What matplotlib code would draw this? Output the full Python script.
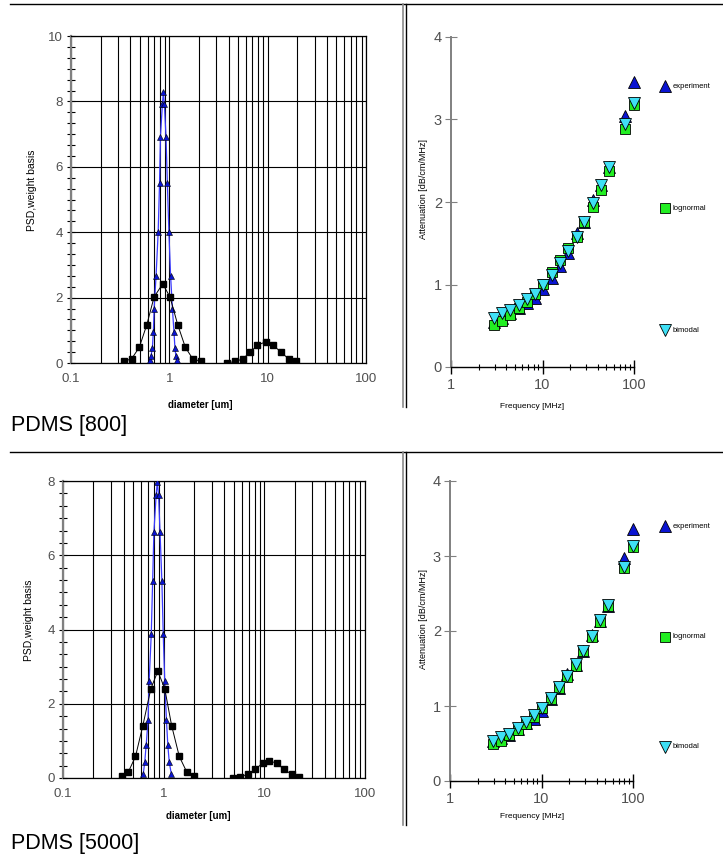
import numpy as np
import matplotlib
matplotlib.use('Agg')
import matplotlib.pyplot as plt
from matplotlib.lines import Line2D
from matplotlib.ticker import LogLocator, MultipleLocator, FixedLocator, NullFormatter

plt.rcParams['font.family'] = ['Liberation Sans', 'DejaVu Sans']

W, H = 723, 859
nan = np.nan

# particle size distributions (weight basis), diameter in um
d800_logn = [0.346, 0.414, 0.495, 0.59, 0.70, 0.856, 1.016, 1.217, 1.455, 1.727, 2.08,
             nan, 3.89, 4.69, 5.57, 6.61, 7.85, 9.55, 11.4, 13.7, 16.4, 19.4]
psd800_logn = [0.05, 0.13, 0.48, 1.17, 2.02, 2.42, 2.02, 1.17, 0.48, 0.13, 0.05,
               nan, 0.0, 0.05, 0.12, 0.33, 0.54, 0.65, 0.54, 0.33, 0.12, 0.05]
d800_bim = [0.631, 0.652, 0.672, 0.688, 0.70, 0.733, 0.77, 0.795, 0.812, 0.85, 0.87,
            0.89, 0.925, 0.955, 0.99, 1.03, 1.075, 1.115, 1.14, 1.165, 1.2]
psd800_bim = [0.10, 0.22, 0.46, 0.95, 1.65, 2.67, 4.0, 5.5, 6.92, 7.92, 8.28,
              7.92, 6.92, 5.5, 4.0, 2.67, 1.65, 0.95, 0.46, 0.22, 0.10]

d5000_logn = [0.385, 0.447, 0.525, 0.621, 0.745, 0.875, 1.026, 1.2, 1.43, 1.69, 2.0,
              nan, 4.91, 5.72, 6.82, 8.12, 9.6, 11.2, 13.3, 15.7, 18.7, 22.0]
psd5000_logn = [0.05, 0.17, 0.58, 1.41, 2.4, 2.88, 2.4, 1.41, 0.58, 0.17, 0.05,
                nan, 0.01, 0.03, 0.10, 0.23, 0.40, 0.46, 0.40, 0.23, 0.10, 0.04]
d5000_bim = [0.628, 0.648, 0.67, 0.70, 0.717, 0.753, 0.777, 0.80, 0.842, 0.865,
             0.89, 0.92, 0.96, 0.99, 1.025, 1.065, 1.10, 1.137, 1.19]
psd5000_bim = [0.12, 0.42, 0.88, 1.57, 2.6, 3.88, 5.3, 6.63, 7.62, 7.97,
               7.62, 6.63, 5.3, 3.88, 2.6, 1.57, 0.88, 0.42, 0.12]

# attenuation spectra, dB/cm/MHz
freq = [2.97, 3.65, 4.44, 5.5, 6.74, 8.32, 10.25, 12.55, 15.55, 19.15, 23.6,
        28.7, 35.4, 43.5, 53.2, 80.7, 99.2]
att800_exp = [0.55, 0.60, 0.65, 0.71, 0.78, 0.84, 0.94, 1.08, 1.23, 1.38, 1.62,
              1.76, 2.02, 2.20, 2.42, 3.04, 3.45]
att800_logn = [0.51, 0.56, 0.63, 0.71, 0.79, 0.89, 1.01, 1.15, 1.30, 1.44, 1.58,
               1.76, 1.94, 2.15, 2.37, 2.88, 3.17]
att800_bim = [0.59, 0.65, 0.69, 0.75, 0.82, 0.89, 0.99, 1.12, 1.26, 1.41, 1.57,
              1.76, 1.99, 2.21, 2.43, 2.94, 3.20]

att5000_exp = [0.53, 0.57, 0.62, 0.69, 0.77, 0.83, 0.94, 1.09, 1.24, 1.43, 1.55,
               1.73, 1.95, 2.14, 2.34, 2.98, 3.36]
att5000_logn = [0.50, 0.54, 0.61, 0.68, 0.76, 0.86, 0.98, 1.10, 1.24, 1.39, 1.54,
                1.73, 1.92, 2.12, 2.33, 2.84, 3.12]
att5000_bim = [0.54, 0.59, 0.63, 0.71, 0.79, 0.88, 0.98, 1.11, 1.25, 1.40, 1.56,
               1.73, 1.94, 2.15, 2.35, 2.85, 3.13]

legend_labels = ['experiment', 'lognormal', 'bimodal']

TICK_GREY = '#505050'
SPINE_GREY = '#808080'
C_EXP = '#0a14d2'
C_LOGN = '#22ee22'
C_BIM = '#3fe0f5'


def fx(x):
    return x / W


def fy(y):
    return 1 - y / H


def px_axes(fig, left, top, right, bottom):
    return fig.add_axes([fx(left), fy(bottom), (right - left) / W, (bottom - top) / H])


def psd_panel(ax, ymax, d_logn, p_logn, d_bim, p_bim):
    ax.set_xscale('log')
    ax.set_xlim(0.1, 100)
    ax.set_ylim(0, ymax)
    ax.xaxis.set_major_locator(FixedLocator([0.1, 1, 10, 100]))
    ax.xaxis.set_minor_locator(LogLocator(base=10, subs=np.arange(2, 10), numticks=20))
    ax.xaxis.set_minor_formatter(NullFormatter())
    ax.set_xticklabels(['0.1', '1', '10', '100'])
    ax.yaxis.set_major_locator(MultipleLocator(2))
    ax.yaxis.set_minor_locator(MultipleLocator(1 / 3))
    ax.grid(axis='x', which='both', color='black', lw=0.8)
    ax.grid(axis='y', which='major', color='black', lw=0.8)
    ax.tick_params(axis='x', which='both', length=0, pad=7, labelsize=9.5, labelcolor=TICK_GREY)
    ax.tick_params(axis='y', which='both', direction='inout', length=6, width=0.8,
                   pad=3, labelsize=9.5, labelcolor=TICK_GREY)
    for side in ['top', 'right', 'bottom']:
        ax.spines[side].set_linewidth(0.9)
    ax.spines['left'].set_color(SPINE_GREY)
    ax.spines['left'].set_linewidth(1.6)
    ax.plot(d_bim, p_bim, color='#3a3aff', lw=0.9, marker='^', ms=4.8,
            mfc=C_EXP, mec='black', mew=0.4, zorder=3)
    ax.plot(d_logn, p_logn, color='black', lw=0.7, marker='s', ms=5,
            mfc='black', mec='black', zorder=4)


def atten_panel(ax, exp, logn, bim):
    ax.set_xscale('log')
    ax.set_xlim(1, 100)
    ax.set_ylim(0, 4)
    ax.spines['top'].set_visible(False)
    ax.spines['right'].set_visible(False)
    ax.spines['left'].set_color(SPINE_GREY)
    ax.spines['left'].set_linewidth(1.4)
    ax.spines['bottom'].set_linewidth(1.0)
    ax.xaxis.set_major_locator(FixedLocator([1, 10, 100]))
    ax.xaxis.set_minor_locator(LogLocator(base=10, subs=np.arange(2, 10), numticks=20))
    ax.xaxis.set_minor_formatter(NullFormatter())
    ax.set_xticklabels(['1', '10', '100'])
    ax.yaxis.set_major_locator(MultipleLocator(1))
    ax.tick_params(axis='x', which='major', direction='inout', length=10, width=1.0,
                   pad=3, labelsize=10.5, labelcolor=TICK_GREY)
    ax.tick_params(axis='x', which='minor', direction='inout', length=5, width=0.8)
    ax.tick_params(axis='y', which='major', direction='inout', length=9, width=0.8,
                   color=SPINE_GREY, pad=2, labelsize=10.5, labelcolor=TICK_GREY)
    ax.plot(freq, exp, ls='none', marker='^', ms=8.6, mfc=C_EXP, mec='black',
            mew=0.6, clip_on=False, zorder=3)
    ax.plot(freq, logn, ls='none', marker='s', ms=7.4, mfc=C_LOGN, mec='black',
            mew=0.6, clip_on=False, zorder=4)
    ax.plot(freq, bim, ls='none', marker='v', ms=8.6, mfc=C_BIM, mec='black',
            mew=0.6, clip_on=False, zorder=5)


def legend_column(fig, ys):
    styles = [('^', C_EXP, 8.2), ('s', C_LOGN, 7.2), ('v', C_BIM, 8.2)]
    for (mk, col, ms), y, lab in zip(styles, ys, legend_labels):
        fig.add_artist(Line2D([fx(665)], [fy(y)], transform=fig.transFigure, ls='none',
                              marker=mk, ms=ms, mfc=col, mec='black', mew=0.6))
        fig.text(fx(672.5), fy(y), lab, fontsize=5.5, ha='left', va='center')


def frame_lines(fig, top, bottom):
    fig.add_artist(Line2D([fx(10), 1], [fy(top), fy(top)], transform=fig.transFigure,
                          color='black', lw=1.0))
    fig.add_artist(Line2D([fx(403.3), fx(403.3)], [fy(top), fy(bottom)],
                          transform=fig.transFigure, color='#8a8a8a', lw=1.2))
    fig.add_artist(Line2D([fx(405.6), fx(405.6)], [fy(top), fy(bottom)],
                          transform=fig.transFigure, color='black', lw=1.0))


fig = plt.figure(figsize=(W / 100, H / 100), dpi=100)

# PDMS [800]
frame_lines(fig, 4, 407)
ax1 = px_axes(fig, 71, 36, 366, 363)
psd_panel(ax1, 10, d800_logn, psd800_logn, d800_bim, psd800_bim)
ax2 = px_axes(fig, 451, 37, 634, 367)
atten_panel(ax2, att800_exp, att800_logn, att800_bim)
legend_column(fig, [86, 208, 330])
fig.text(fx(32), fy(190), 'PSD,weight basis', rotation=90, fontsize=7.5, ha='center', va='center')
fig.text(fx(200), fy(405), 'diameter [um]', fontsize=7, fontweight='bold', ha='center', va='center')
fig.text(fx(424), fy(189), 'Attenuation [dB/cm/MHz]', rotation=90, fontsize=6.5, ha='center', va='center')
fig.text(fx(532), fy(407), 'Frequency [MHz]', fontsize=6, ha='center', va='center')
fig.text(fx(11), fy(425), 'PDMS [800]', fontsize=15.5, ha='left', va='center')

# PDMS [5000]
frame_lines(fig, 452, 825)
ax3 = px_axes(fig, 63, 481, 365, 778)
psd_panel(ax3, 8, d5000_logn, psd5000_logn, d5000_bim, psd5000_bim)
ax4 = px_axes(fig, 450, 481, 633, 781)
atten_panel(ax4, att5000_exp, att5000_logn, att5000_bim)
legend_column(fig, [526, 637, 747])
fig.text(fx(29), fy(620), 'PSD,weight basis', rotation=90, fontsize=7.5, ha='center', va='center')
fig.text(fx(198), fy(816), 'diameter [um]', fontsize=7, fontweight='bold', ha='center', va='center')
fig.text(fx(423), fy(619), 'Attenuation [dB/cm/MHz]', rotation=90, fontsize=6.5, ha='center', va='center')
fig.text(fx(532), fy(817), 'Frequency [MHz]', fontsize=6, ha='center', va='center')
fig.text(fx(11), fy(843), 'PDMS [5000]', fontsize=15.5, ha='left', va='center')

fig.savefig('out.png', dpi=100)
